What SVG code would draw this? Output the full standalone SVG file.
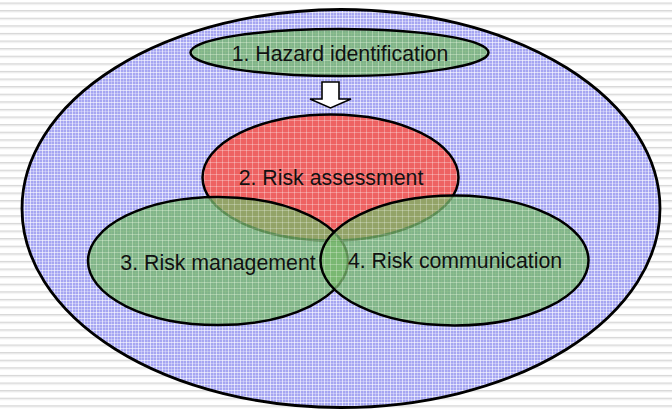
<svg xmlns="http://www.w3.org/2000/svg" width="672" height="409" viewBox="0 0 672 409">
  <defs>
    <pattern id="stripes" width="672" height="7.6" patternUnits="userSpaceOnUse" y="2.5">
      <rect width="672" height="7.6" fill="#ffffff"/>
      <rect y="0" width="672" height="1.2" fill="#d6d6d6"/>
      <rect y="1.2" width="672" height="1" fill="#e8e8e8"/>
    </pattern>
    <pattern id="blueTex" width="6" height="6" patternUnits="userSpaceOnUse">
      <rect width="6" height="6" fill="#a6a6f2"/>
      <rect x="0" y="0" width="1" height="6" fill="#ffffff" fill-opacity="0.6"/>
      <rect x="0" y="0" width="6" height="1" fill="#ffffff" fill-opacity="0.6"/>
      <rect x="3" y="0" width="1" height="6" fill="#ffffff" fill-opacity="0.3"/>
      <rect x="0" y="3" width="6" height="1" fill="#ffffff" fill-opacity="0.3"/>
    </pattern>
    <pattern id="redTex" width="6" height="6" patternUnits="userSpaceOnUse">
      <rect width="6" height="6" fill="#ee6262"/>
      <rect x="0" y="0" width="1" height="6" fill="#ffffff" fill-opacity="0.3"/>
      <rect x="0" y="0" width="6" height="1" fill="#ffffff" fill-opacity="0.3"/>
    </pattern>
    <pattern id="greenTex" width="6" height="6" patternUnits="userSpaceOnUse">
      <rect width="6" height="6" fill="#76b86a"/>
      <rect x="0" y="0" width="1" height="6" fill="#ffffff" fill-opacity="0.25"/>
      <rect x="0" y="0" width="6" height="1" fill="#ffffff" fill-opacity="0.25"/>
    </pattern>
  </defs>
  <style>
    .outline { stroke: #000000; stroke-width: 2.5; }
    .green { fill: url(#greenTex); fill-opacity: 0.76; }
    .label { font-family: "Liberation Sans", Arial, sans-serif; font-size: 21.3px; fill: #111111; text-anchor: middle; }
  </style>

  <rect x="0" y="0" width="672" height="409" fill="url(#stripes)"/>

  <g id="scope">
    <ellipse cx="341" cy="208.5" rx="319" ry="199" fill="url(#blueTex)" class="outline" style="stroke-width:2.8"/>
  </g>

  <g id="hazard-identification">
    <ellipse cx="339.5" cy="52.5" rx="149" ry="23.5" class="outline green"/>
    <text x="340" y="60.5" class="label">1. Hazard identification</text>
  </g>

  <g id="connectors">
    <polygon points="322,82 339,82 339,99 351,99 330.5,108 310,99 322,99" fill="#ffffff" stroke="#000000" stroke-width="1.6" stroke-linejoin="miter"/>
  </g>

  <g id="risk-assessment">
    <ellipse cx="330.5" cy="177.5" rx="128" ry="63" fill="url(#redTex)" class="outline"/>
    <text x="331" y="184.5" class="label">2. Risk assessment</text>
  </g>

  <g id="risk-management">
    <ellipse cx="218" cy="261" rx="130" ry="64" class="outline green"/>
    <text x="218" y="269.5" class="label">3. Risk management</text>
  </g>

  <g id="risk-communication">
    <ellipse cx="454.5" cy="260.5" rx="134" ry="65" class="outline green"/>
    <text x="455" y="268" class="label">4. Risk communication</text>
  </g>
</svg>
